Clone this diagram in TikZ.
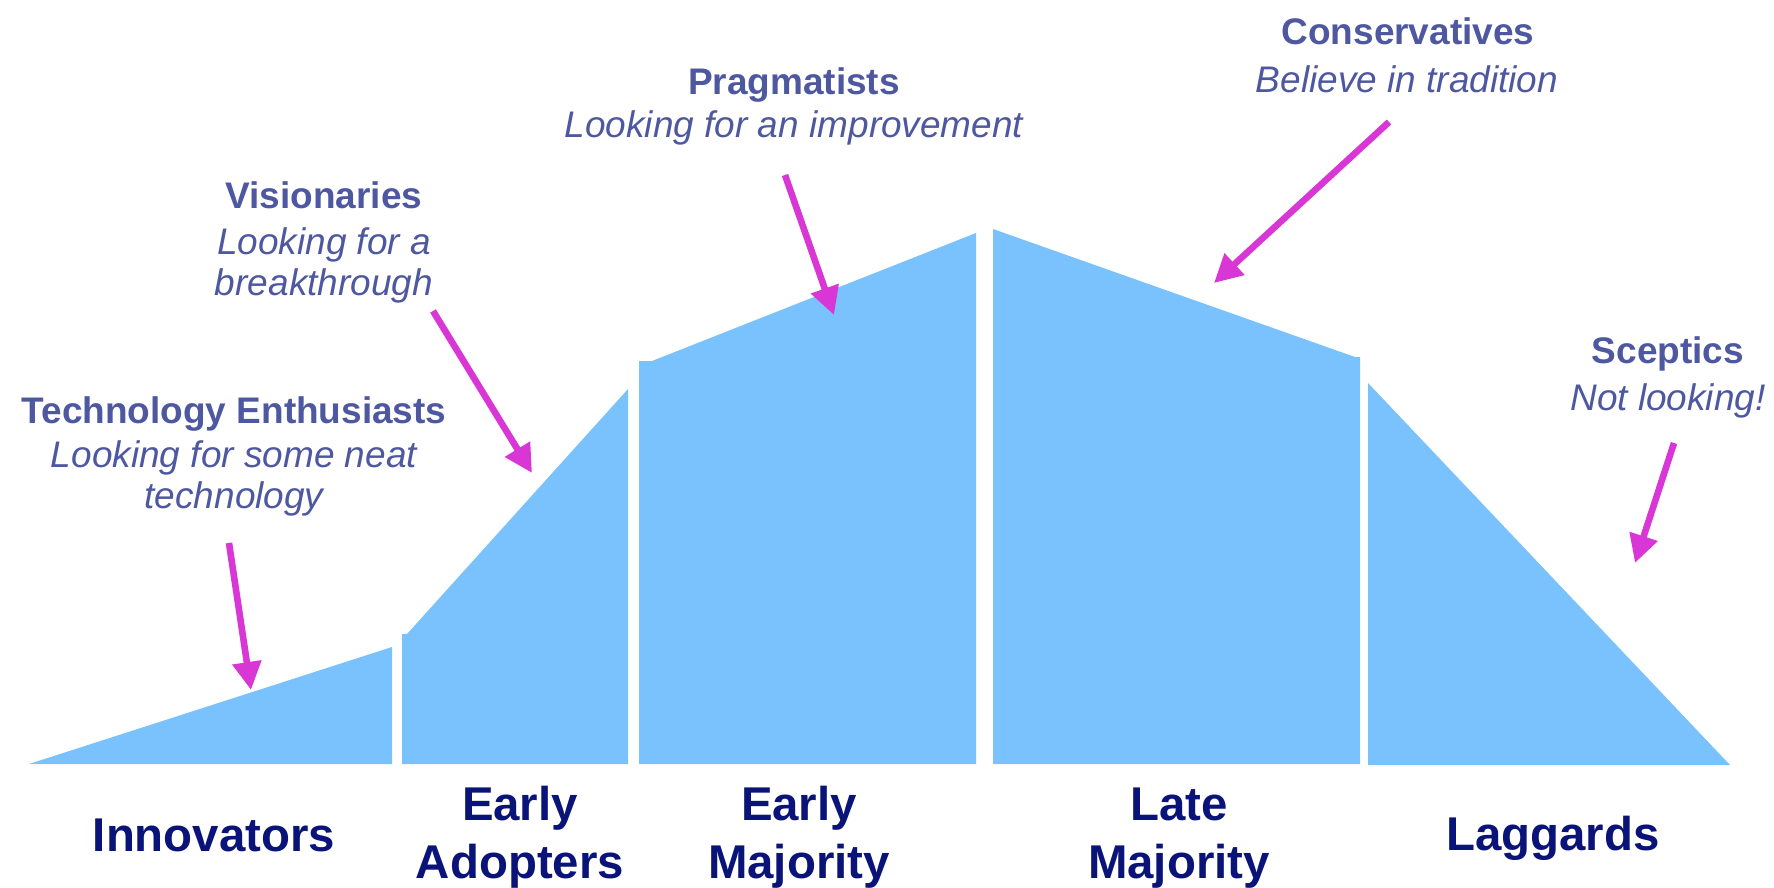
\documentclass[tikz,border=0pt]{standalone}
\usepackage{fontspec}
\setmainfont{Liberation Sans}
\usetikzlibrary{arrows.meta}

\definecolor{curveblue}{RGB}{122,194,253}
\definecolor{grouppurple}{RGB}{78,88,160}
\definecolor{pointermagenta}{RGB}{217,54,214}
\definecolor{stagenavy}{RGB}{10,20,120}

\tikzset{
	segment/.style={fill=curveblue, draw=none},
	pointer/.style={draw=pointermagenta, line width=3.3pt, -{Triangle[length=14pt,width=14pt]}},
	grouphead/.style={text=grouppurple, inner sep=0pt, font=\fontsize{18.5}{22}\selectfont\bfseries},
	groupmotto/.style={text=grouppurple, inner sep=0pt, align=center, font=\fontsize{18.5}{20.5}\selectfont\itshape},
	stagelabel/.style={text=stagenavy, inner sep=0pt, align=center, font=\fontsize{23.7}{29}\selectfont\bfseries}
}

\begin{document}
\begin{tikzpicture}[x=0.5pt,y=0.5pt,yscale=-1,xscale=1]
		\useasboundingbox (0,0) rectangle (1774,888);

		%Shape: Innovators
		\fill [segment] (29,764) -- (392,647) -- (392,764) -- cycle ;
		%Shape: Early Adopters
		\fill [segment] (402,764) -- (402,634) -- (407,634) -- (628,389) -- (628,764) -- cycle ;
		%Shape: Early Majority
		\fill [segment] (639,764) -- (639,361) -- (652,361) -- (976,233) -- (976,764) -- cycle ;
		%Shape: Late Majority
		\fill [segment] (993,764) -- (993,229) -- (1355,357) -- (1360,357) -- (1360,764) -- cycle ;
		%Shape: Laggards
		\fill [segment] (1368,765) -- (1368,383) -- (1730,765) -- cycle ;

		% Group headings and mottos
		\node [grouphead] (enthusiasts) at (234,414) {Technology Enthusiasts};
		\node [groupmotto] (enthusiastsmotto) at (234,478) {Looking for some neat\\technology};
		\node [grouphead] (visionaries) at (324,195) {Visionaries};
		\node [groupmotto] (visionariesmotto) at (324,265) {Looking for a\\breakthrough};
		\node [grouphead] (pragmatists) at (794,85) {Pragmatists};
		\node [groupmotto] (pragmatistsmotto) at (794,128) {Looking for an improvement};
		\node [grouphead] (conservatives) at (1408,31) {Conservatives};
		\node [groupmotto] (conservativesmotto) at (1407,79) {Believe in tradition};
		\node [grouphead] (sceptics) at (1668,354) {Sceptics};
		\node [groupmotto] (scepticsmotto) at (1668,401) {Not looking!};

		% Pointer ends
		\coordinate (p1from) at (229,543);
		\coordinate (p1to) at (251,690);
		\coordinate (p2from) at (433,311);
		\coordinate (p2to) at (532,473);
		\coordinate (p3from) at (785,175);
		\coordinate (p3to) at (834,315);
		\coordinate (p4from) at (1389,122);
		\coordinate (p4to) at (1214,283);
		\coordinate (p5from) at (1674,443);
		\coordinate (p5to) at (1635,563);

		%Straight Lines: pointers
		\draw [pointer] (p1from) -- (p1to) ;
		\draw [pointer] (p2from) -- (p2to) ;
		\draw [pointer] (p3from) -- (p3to) ;
		\draw [pointer] (p4from) -- (p4to) ;
		\draw [pointer] (p5from) -- (p5to) ;

		% Stage labels
		\node [stagelabel] (innovators) at (214,835) {Innovators};
		\node [stagelabel] (earlyadopters) at (520,837) {Early\\Adopters};
		\node [stagelabel] (earlymajority) at (799,837) {Early\\Majority};
		\node [stagelabel] (latemajority) at (1179,838) {Late\\Majority};
		\node [stagelabel] (laggards) at (1553,838) {Laggards};

\end{tikzpicture}
\end{document}
